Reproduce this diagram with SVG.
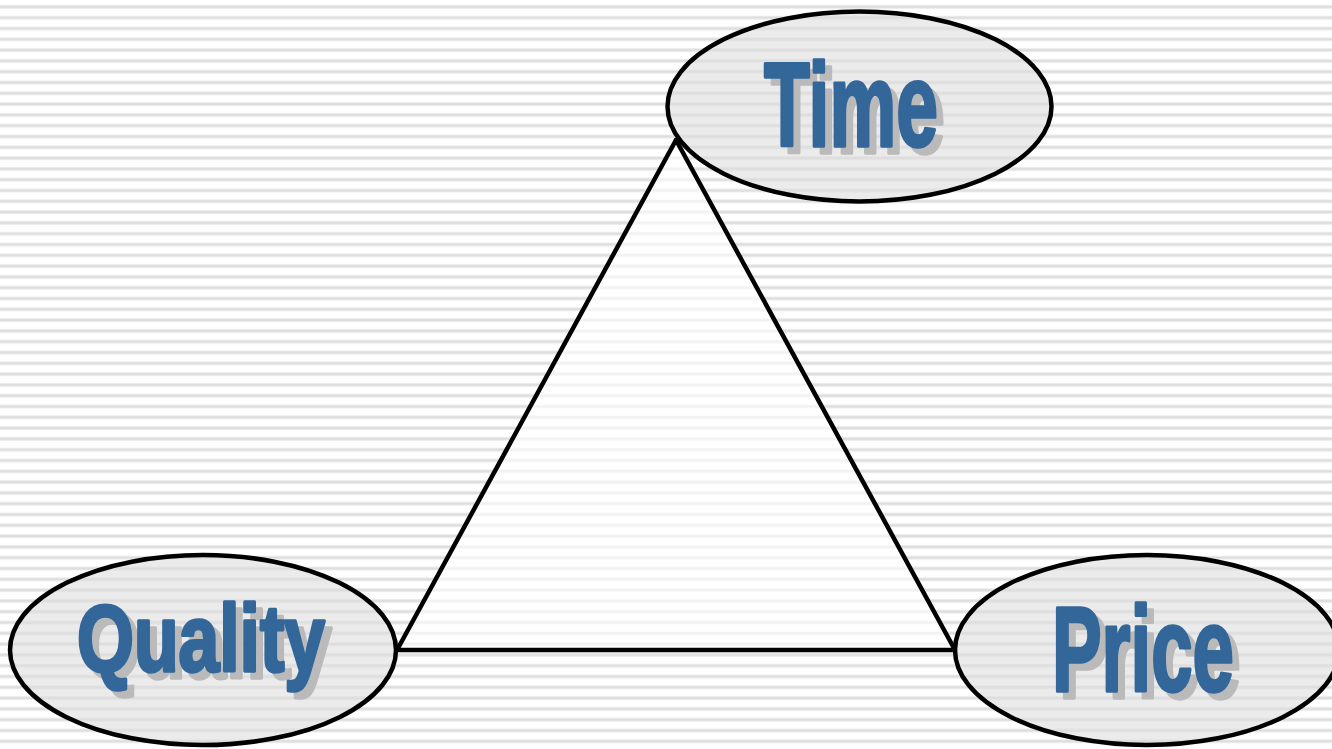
<svg xmlns="http://www.w3.org/2000/svg" width="1332" height="749" viewBox="0 0 1332 749">
<defs>
<pattern id="stripes" patternUnits="userSpaceOnUse" x="0" y="4.9" width="20" height="10.8">
<rect x="0" y="0" width="20" height="10.8" fill="#ffffff"/>
<rect x="0" y="0" width="20" height="4" fill="#ececec"/>
<rect x="0" y="1" width="20" height="2" fill="#dedede"/>
</pattern>
<style>
.node-shape{fill:#dedede;fill-opacity:0.6;stroke:#000;stroke-width:4.5}
.edge{stroke:#000;stroke-width:4.5;fill:none;stroke-linecap:round}
.lbl{font-family:"Liberation Sans",Arial,sans-serif;font-weight:bold;stroke-width:3.5;stroke-linejoin:round}
.shadow{fill:#bababa;stroke:#bababa}
.main{fill:#336699;stroke:#336699}
</style>
</defs>
<rect x="0" y="0" width="1332" height="749" fill="url(#stripes)"/>
<polygon points="676,140 397,650 955,650" fill="#ffffff" fill-opacity="0.6"/>
<g id="connectors">
<line class="edge" x1="676" y1="140" x2="397" y2="650"/>
<line class="edge" x1="676" y1="140" x2="955" y2="650"/>
<line class="edge" x1="397" y1="650" x2="955" y2="650"/>
</g>
<g id="node-time">
<ellipse class="node-shape" cx="859.5" cy="106.5" rx="192" ry="95"/>
<text class="lbl shadow" x="771" y="153" font-size="119" textLength="174" lengthAdjust="spacingAndGlyphs">Time</text>
<text class="lbl main" x="764" y="146" font-size="119" textLength="174" lengthAdjust="spacingAndGlyphs">Time</text>
</g>
<g id="node-quality">
<ellipse class="node-shape" cx="203" cy="650" rx="193" ry="95"/>
<text class="lbl shadow" x="84" y="678" font-size="94" textLength="248" lengthAdjust="spacingAndGlyphs">Quality</text>
<text class="lbl main" x="77" y="671" font-size="94" textLength="248" lengthAdjust="spacingAndGlyphs">Quality</text>
</g>
<g id="node-price">
<ellipse class="node-shape" cx="1147" cy="650" rx="192" ry="95"/>
<text class="lbl shadow" x="1059" y="698" font-size="121" textLength="182" lengthAdjust="spacingAndGlyphs">Price</text>
<text class="lbl main" x="1052" y="691" font-size="121" textLength="182" lengthAdjust="spacingAndGlyphs">Price</text>
</g>
</svg>
